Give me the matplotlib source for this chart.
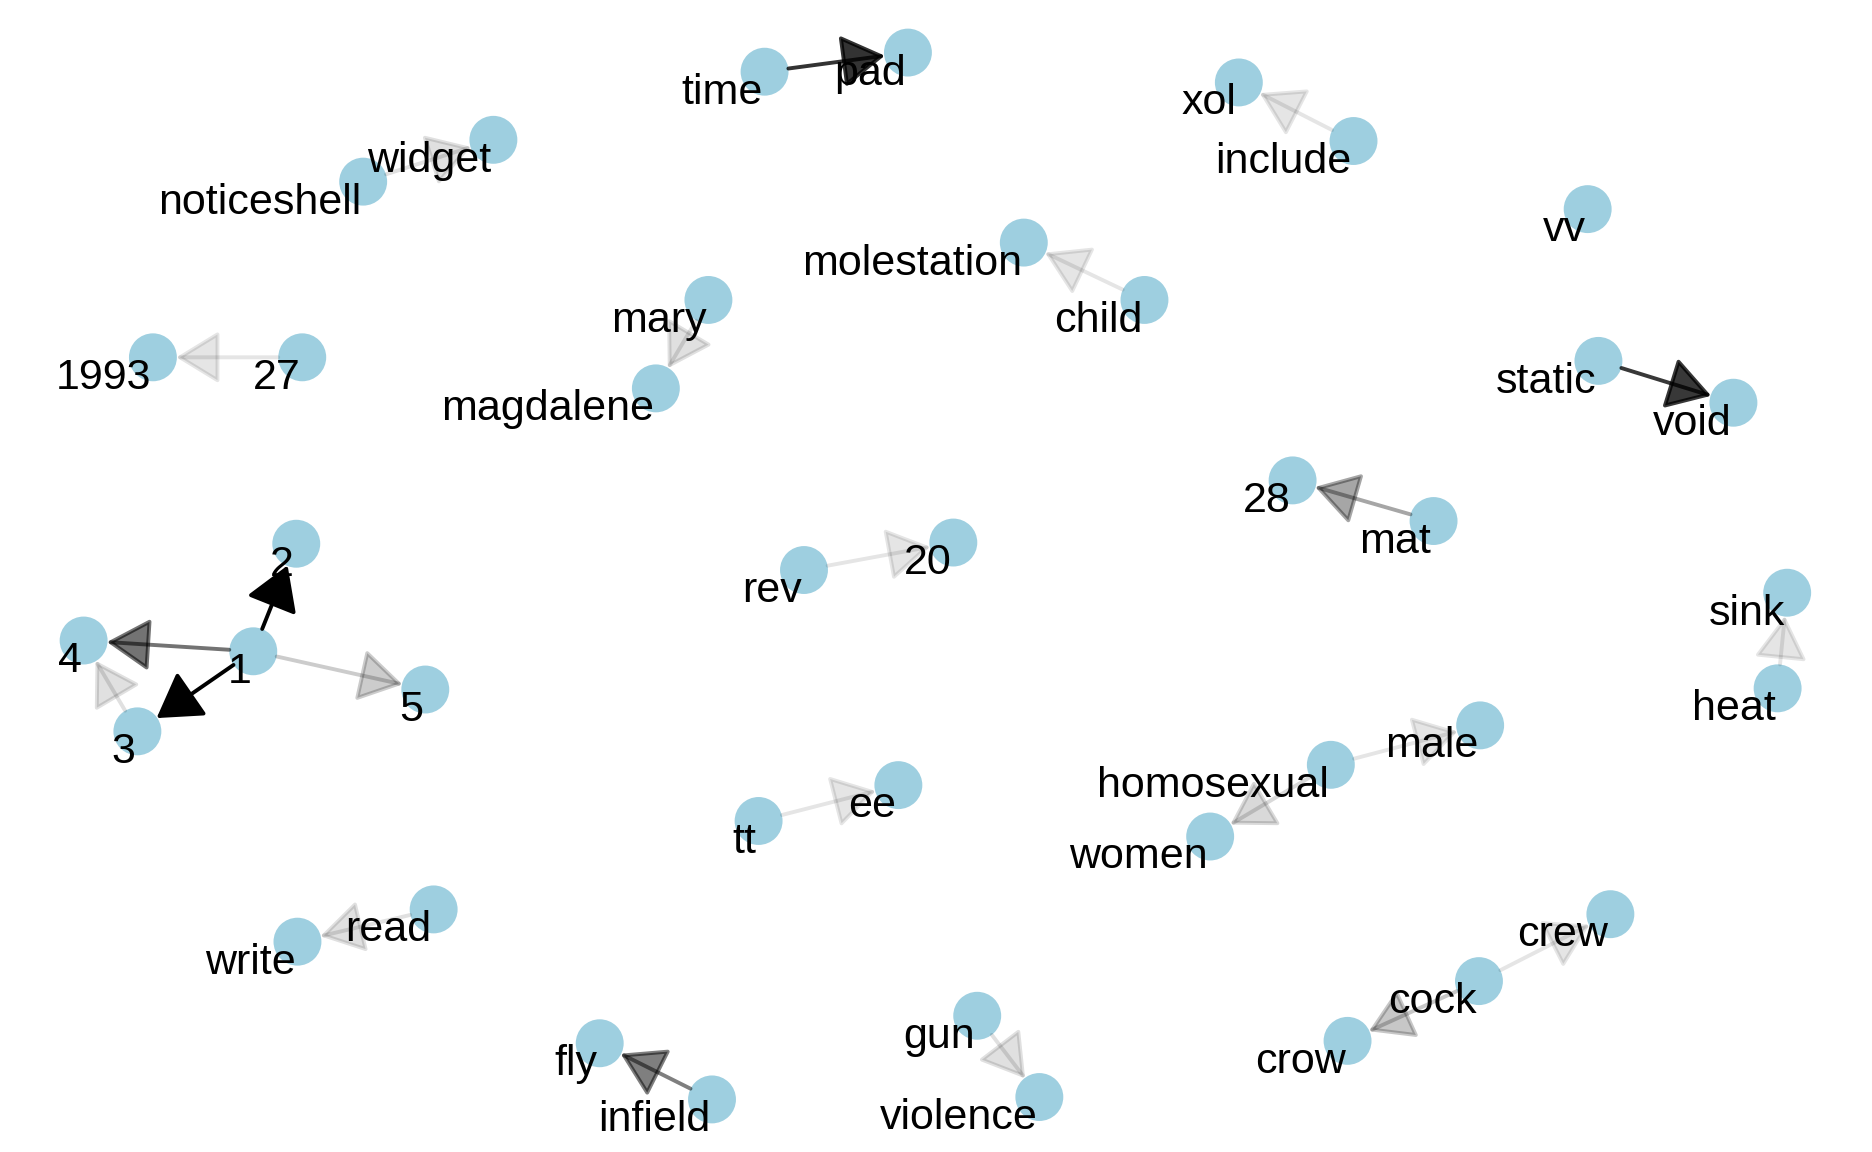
import matplotlib.pyplot as plt
from matplotlib.patches import FancyArrowPatch

# node layout (x, y in picture units, y grows downward)
nodes = ["time", "pad", "widget", "noticeshell", "xol", "include", "vv",
         "molestation", "child", "mary", "magdalene", "1993", "27",
         "static", "void", "28", "mat", "2", "1", "4", "3", "5",
         "rev", "20", "sink", "heat", "male", "homosexual", "women",
         "tt", "ee", "read", "write", "crew", "cock", "crow",
         "fly", "infield", "gun", "violence"]
node_x = [640, 760, 413, 304, 1037, 1133, 1329,
          857, 958, 593, 549, 128, 253,
          1338, 1451, 1082, 1200, 248, 212, 70, 115, 356,
          673, 798, 1496, 1488, 1239, 1114, 1013,
          635, 752, 363, 249, 1348, 1238, 1128,
          502, 596, 818, 870]
node_y = [60, 44, 117, 152, 69, 118, 175,
          203, 251, 251, 325, 299, 299,
          302, 337, 402, 436, 455, 545, 536, 612, 577,
          477, 454, 496, 576, 607, 640, 700,
          687, 657, 761, 788, 765, 821, 871,
          873, 920, 850, 918]

# directed edges and their strength (used as opacity)
edge_src = ["time", "noticeshell", "include", "child", "mary", "27",
            "static", "mat", "1", "1", "1", "1", "3", "rev", "heat",
            "homosexual", "homosexual", "tt", "read", "cock", "cock",
            "infield", "gun"]
edge_dst = ["pad", "widget", "xol", "molestation", "magdalene", "1993",
            "void", "28", "2", "3", "4", "5", "4", "20", "sink",
            "male", "women", "ee", "write", "crew", "crow",
            "fly", "violence"]
edge_w = [0.8, 0.12, 0.1, 0.1, 0.12, 0.1,
          0.78, 0.35, 1.0, 1.0, 0.55, 0.2, 0.12, 0.1, 0.1,
          0.1, 0.15, 0.1, 0.12, 0.1, 0.22,
          0.5, 0.12]

fig = plt.figure(figsize=(18.72, 11.52), dpi=100)
ax = fig.add_axes([0, 0, 1, 1])
ax.set_xlim(0, 1567)
ax.set_ylim(964, 0)
ax.axis("off")

pos = {n: (x, y) for n, x, y in zip(nodes, node_x, node_y)}
node_r = 17.3  # node radius in points

ax.scatter(node_x, node_y, s=1190, color="#9ecfe0", edgecolors="none", zorder=1)

for s, d, w in zip(edge_src, edge_dst, edge_w):
    arr = FancyArrowPatch(pos[s], pos[d],
                          arrowstyle="-|>,head_length=0.9,head_width=0.55",
                          mutation_scale=30, lw=2.8, color="black", alpha=w,
                          shrinkA=node_r, shrinkB=node_r - 0.5, zorder=2)
    ax.add_patch(arr)

for n, x, y in zip(nodes, node_x, node_y):
    ax.annotate(n, (x, y), xytext=(-1.5, -23), textcoords="offset points",
                ha="right", va="baseline", fontsize=31,
                family="Liberation Sans", zorder=3)

fig.savefig("out.png", dpi=100)
